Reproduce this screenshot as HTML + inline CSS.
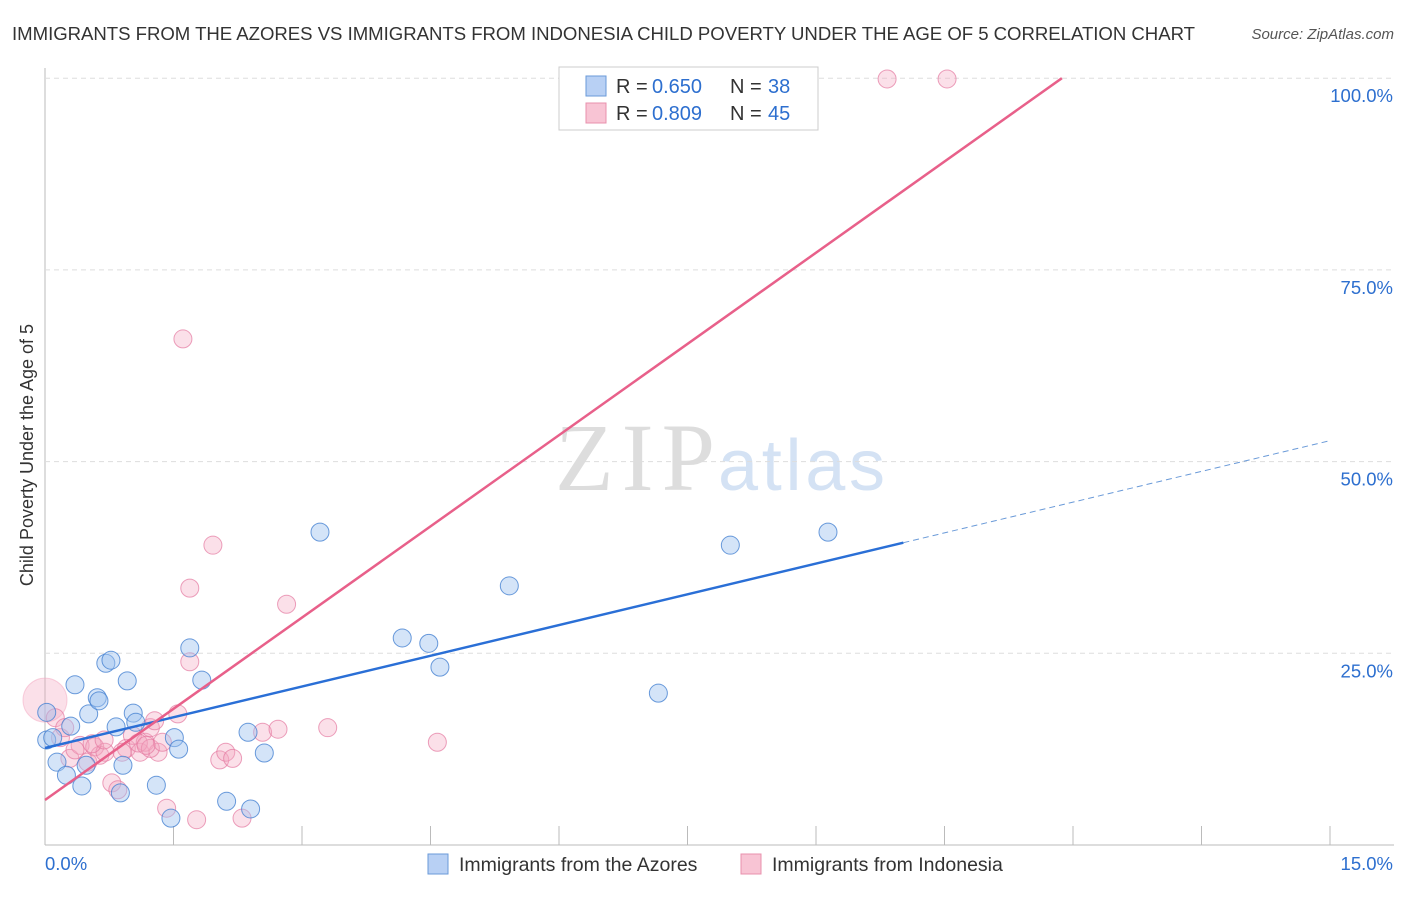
<!DOCTYPE html>
<html><head><meta charset="utf-8"><style>
body{margin:0;background:#fff;font-family:"Liberation Sans",sans-serif}
</style></head><body>
<svg id="c" width="1406" height="892" xmlns="http://www.w3.org/2000/svg">
<text x="12" y="40" font-size="18.6" fill="#333" textLength="1183">IMMIGRANTS FROM THE AZORES VS IMMIGRANTS FROM INDONESIA CHILD POVERTY UNDER THE AGE OF 5 CORRELATION CHART</text>
<text x="1394" y="39" font-size="15" fill="#555" font-style="italic" text-anchor="end">Source: ZipAtlas.com</text>
<text x="715" y="490" font-size="96" fill="#ddd" text-anchor="end" font-family="Liberation Serif,serif" textLength="160">ZIP</text>
<text x="718" y="490" font-size="72" fill="#d4e2f4" textLength="167">atlas</text>
<text transform="translate(33,455) rotate(-90)" font-size="18" fill="#333" text-anchor="middle">Child Poverty Under the Age of 5</text>
<g id="grid"></g><g id="pts"></g><g id="lines"></g>
<g>
<rect x="559" y="67" width="259" height="63" fill="#fff" stroke="#ccc"/>
<rect x="586" y="76" width="20" height="20" fill="#b8d0f4" stroke="#6a9ad8"/>
<rect x="586" y="103" width="20" height="20" fill="#f8c4d4" stroke="#e890ad"/>
<text y="93" font-size="20" fill="#333"><tspan x="616">R = </tspan><tspan x="652" fill="#2d6fcf">0.650</tspan><tspan x="730">N = </tspan><tspan x="768" fill="#2d6fcf">38</tspan></text>
<text y="120" font-size="20" fill="#333"><tspan x="616">R = </tspan><tspan x="652" fill="#2d6fcf">0.809</tspan><tspan x="730">N = </tspan><tspan x="768" fill="#2d6fcf">45</tspan></text>
</g>
<g>
<rect x="428" y="854" width="20" height="20" fill="#b8d0f4" stroke="#6a9ad8"/>
<text x="459" y="871" font-size="19.5" fill="#333">Immigrants from the Azores</text>
<rect x="741" y="854" width="20" height="20" fill="#f8c4d4" stroke="#e890ad"/>
<text x="772" y="871" font-size="19.5" fill="#333">Immigrants from Indonesia</text>
</g>
<text x="45" y="870" font-size="18.5" fill="#2d6fcf">0.0%</text>
<text x="1393" y="870" font-size="18.5" fill="#2d6fcf" text-anchor="end">15.0%</text>
</svg>
<script>
const yTicks=[25,50,75,100];
const xTicks=[0,1.5,3,4.5,6,7.5,9,10.5,12,13.5,15];
const azoresX=[0.02,0.02,0.09,0.14,0.25,0.30,0.35,0.43,0.48,0.51,0.61,0.63,0.71,0.77,0.83,0.88,0.91,0.96,1.03,1.06,1.30,1.47,1.51,1.56,1.69,1.83,2.12,2.37,2.40,2.56,3.21,4.17,4.48,4.61,5.42,7.16,8.00,9.14];
const azoresY=[17.3,13.7,14.0,10.8,9.1,15.5,20.9,7.7,10.4,17.1,19.2,18.8,23.7,24.1,15.4,6.8,10.4,21.4,17.2,16.0,7.8,3.5,14.0,12.5,25.7,21.5,5.7,14.7,4.7,12.0,40.8,27.0,26.3,23.2,33.8,19.8,39.1,40.8];
const indoX=[0.0,0.12,0.18,0.29,0.41,0.50,0.58,0.64,0.70,0.78,0.85,0.95,1.02,1.11,1.17,1.23,1.28,1.32,1.42,1.55,1.61,1.69,1.69,1.77,1.96,2.04,2.11,2.19,2.30,2.54,2.72,2.82,3.30,4.58,9.83,10.53,0.23,0.35,0.55,0.90,1.09,1.23,1.37,1.18,0.69];
const indoY=[18.9,16.6,14.0,11.3,13.0,10.8,12.8,11.7,12.1,8.1,7.2,12.6,14.3,12.1,13.4,15.3,16.2,12.1,4.8,17.1,66.0,23.9,33.5,3.3,39.1,11.1,12.1,11.3,3.5,14.7,15.1,31.4,15.3,13.4,99.9,99.9,15.3,12.4,13.2,12.1,13.3,12.6,13.4,13.0,13.7];
const azoresFit=[12.65,2.672];
const indoFit=[5.87,7.93];
const X=v=>45+v/1.5*128.5, Y=v=>845-v/25*191.7;
const NS="http://www.w3.org/2000/svg";
function mk(t,a,p){const e=document.createElementNS(NS,t);for(const k in a)e.setAttribute(k,a[k]);p.appendChild(e);return e;}
const g=document.getElementById('grid');
mk('line',{x1:45,y1:68,x2:45,y2:845,stroke:'#bbb'},g);
mk('line',{x1:45,y1:845,x2:1394,y2:845,stroke:'#bbb'},g);
yTicks.forEach(t=>{
 const l=mk('line',{x1:45,y1:Y(t),x2:1394,y2:Y(t),stroke:'#ddd','stroke-dasharray':'5,4'},g);
 
 
 const tx=mk('text',{x:1393,y:Y(t)+24,'font-size':18.5,fill:'#2d6fcf','text-anchor':'end'},g);
 tx.textContent=t.toFixed(1)+'%';
 
 
});
xTicks.forEach(t=>{
 const l=mk('line',{x1:X(t),y1:826,x2:X(t),y2:845,stroke:'#bbb'},g);
 
 
});
const p=document.getElementById('pts');
indoX.forEach((x,i)=>{
 const c=mk('circle',{cx:X(x),cy:Y(indoY[i]),r:i==0?22:9,fill:'rgba(244,165,192,0.35)',stroke:i==0?'rgba(244,165,192,0.5)':'rgba(228,120,160,0.7)'},p);
 
 
});
azoresX.forEach((x,i)=>{
 const c=mk('circle',{cx:X(x),cy:Y(azoresY[i]),r:9,fill:'rgba(160,195,240,0.45)',stroke:'rgba(70,130,210,0.8)'},p);
 
 
});
const L=document.getElementById('lines');
const f=(fit,x)=>fit[0]+fit[1]*x;
let a=mk('line',{x1:X(0),y1:Y(f(azoresFit,0)),x2:X(10.02),y2:Y(f(azoresFit,10.02)),stroke:'#2a6fd6','stroke-width':2.5},L);


a=mk('line',{x1:X(10.02),y1:Y(f(azoresFit,10.02)),x2:X(15),y2:Y(f(azoresFit,15)),stroke:'#6a9ad8','stroke-width':1,'stroke-dasharray':'6,4'},L);


const xe=(100-indoFit[0])/indoFit[1];
a=mk('line',{x1:X(0),y1:Y(f(indoFit,0)),x2:X(xe),y2:Y(100),stroke:'#e8608a','stroke-width':2.5},L);


</script>
</body></html>
